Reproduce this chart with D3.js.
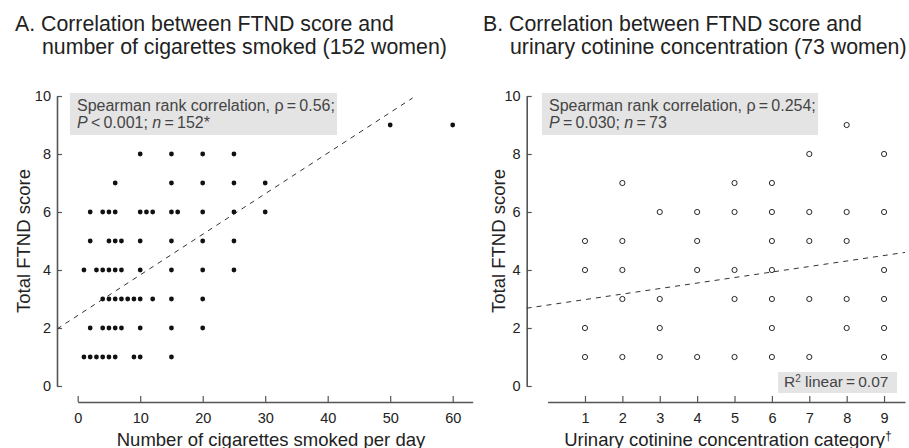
<!DOCTYPE html>
<html>
<head>
<meta charset="utf-8">
<script src="https://cdn.jsdelivr.net/npm/d3@7"></script>
<style>
  html, body { margin: 0; padding: 0; background: #fff; }
  svg { display: block; font-family: "Liberation Sans", Arial, sans-serif; }
</style>
</head>
<body>
<svg id="chart" width="909" height="448"></svg>
<script>
// ---------- DATA ----------
// Panel A: FTND score levels and the cigarettes/day values plotted at each level
const ftndLevels = [1, 2, 3, 4, 5, 6, 7, 8, 9];
const cigsAtScore = [
  [1, 2, 3, 4, 5, 6, 9, 10, 15],                 // score 1
  [2, 4, 5, 6, 7, 10, 15, 20],                   // score 2
  [4, 5, 6, 7, 8, 9, 10, 12, 15, 20],            // score 3
  [1, 3, 4, 5, 6, 7, 10, 15, 20, 25],            // score 4
  [2, 5, 6, 7, 10, 15, 20, 25],                  // score 5
  [2, 4, 5, 6, 10, 11, 12, 15, 16, 20, 25, 30],  // score 6
  [6, 15, 20, 25, 30],                           // score 7
  [10, 15, 20, 25],                              // score 8
  [50, 60]                                       // score 9
];
// Panel B: cotinine categories plotted at each FTND level
const cotinineAtScore = [
  [1, 2, 3, 4, 5, 6, 7, 9],       // score 1
  [1, 3, 6, 8, 9],                // score 2
  [2, 3, 5, 6, 7, 8, 9],          // score 3
  [1, 2, 4, 5, 6, 9],             // score 4
  [1, 2, 4, 6, 7, 8],             // score 5
  [3, 4, 5, 6, 7, 8, 9],          // score 6
  [2, 5, 6],                      // score 7
  [7, 9],                         // score 8
  [8]                             // score 9
];
const yTicks = [0, 2, 4, 6, 8, 10];
const xTicksA = [0, 10, 20, 30, 40, 50, 60];
const xTicksB = [1, 2, 3, 4, 5, 6, 7, 8, 9];
// Fitted lines (intercept, slope) and the x extent over which they are drawn
const fitA = [2.43, 0.14];
const fitAExtent = [-3.3, 53.6];
const fitB = [2.79, 0.19];
const fitBExtent = [-0.56, 9.56];

const titleA = ["A. Correlation between FTND score and", "number of cigarettes smoked (152 women)"];
const titleB = ["B. Correlation between FTND score and", "urinary cotinine concentration (73 women)"];
const xLabelA = "Number of cigarettes smoked per day";
const xLabelB = "Urinary cotinine concentration category";
const yLabel = "Total FTND score";

// ---------- DRAW ----------
const svg = d3.select("#chart");
const axisColor = "#555";
const textColor = "#222";

function flatten(levels, rows) {
  const out = [];
  rows.forEach((r, i) => r.forEach(x => out.push({x: x, y: levels[i]})));
  return out;
}

function drawPanel(cfg) {
  const g = svg.append("g");
  const y = d3.scaleLinear().domain([0, 10]).range([386, 96]);
  const x = d3.scaleLinear().domain(cfg.xDomain).range(cfg.xRange);

  // Y axis (ticks pointing inward, labels outside)
  const ya = g.append("g").attr("transform", `translate(${cfg.yAxisX},0)`)
    .call(d3.axisLeft(y).tickValues(yTicks).tickSizeInner(-5).tickSizeOuter(0).tickPadding(6));
  ya.select(".domain").attr("stroke", axisColor).attr("stroke-width", 1.6);
  ya.selectAll(".tick line").attr("stroke", axisColor).attr("stroke-width", 1.2);
  ya.selectAll(".tick text").attr("fill", textColor).style("font-size", "14.5px")
    .style("font-family", "Liberation Sans, Arial, sans-serif");

  // X axis (separate line below, ticks pointing up)
  const xa = g.append("g").attr("transform", "translate(0,402)")
    .call(d3.axisBottom(x).tickValues(cfg.xTicks).tickSizeInner(-6).tickSizeOuter(0).tickPadding(11));
  xa.select(".domain").attr("stroke", axisColor).attr("stroke-width", 1.6);
  xa.selectAll(".tick line").attr("stroke", axisColor).attr("stroke-width", 1.2);
  xa.selectAll(".tick text").attr("fill", textColor).style("font-size", "14.5px")
    .style("font-family", "Liberation Sans, Arial, sans-serif");

  // Titles
  const t = g.append("text").attr("fill", textColor).style("font-size", "21.3px");
  t.append("tspan").attr("x", cfg.titleX).attr("y", 31).text(cfg.title[0]);
  t.append("tspan").attr("x", cfg.titleX + 27).attr("y", 54).text(cfg.title[1]);

  // Axis labels
  const xl = g.append("text").attr("x", cfg.xLabelX).attr("y", 445.5)
    .attr("text-anchor", "middle").attr("fill", textColor).style("font-size", "18.5px")
    .text(cfg.xLabel);
  if (cfg.dagger) {
    xl.append("tspan").attr("dy", -6).style("font-size", "12px").text("\u2020");
  }
  g.append("text")
    .attr("transform", `translate(${cfg.yLabelX},241) rotate(-90)`)
    .attr("text-anchor", "middle").attr("fill", textColor).style("font-size", "18.5px")
    .text(yLabel);

  // Annotation box
  g.append("rect").attr("x", cfg.boxX).attr("y", 93).attr("width", cfg.boxW).attr("height", 42)
    .attr("fill", "#e4e4e4");
  const at = g.append("text").attr("fill", "#444").style("font-size", "16px");
  const l1 = at.append("tspan").attr("x", cfg.boxX + 7).attr("y", 110.5);
  l1.text(cfg.note1);
  const l2 = at.append("tspan").attr("x", cfg.boxX + 7).attr("y", 127.5);
  cfg.note2.forEach(p => {
    const s = l2.append("tspan").text(p[0]);
    if (p[1]) s.style("font-style", "italic");
  });

  // Fit line
  const line = d3.line().x(d => x(d)).y(d => y(cfg.fit[0] + cfg.fit[1] * d));
  g.append("path").datum(cfg.fitExtent).attr("d", line)
    .attr("fill", "none").attr("stroke", "#333").attr("stroke-width", 1)
    .attr("stroke-dasharray", "5,5");

  // Points
  const pts = flatten(ftndLevels, cfg.rows);
  g.selectAll("circle.pt").data(pts).join("circle").attr("class", "pt")
    .attr("cx", d => x(d.x)).attr("cy", d => y(d.y))
    .attr("r", cfg.filled ? 2.4 : 2.6)
    .attr("fill", cfg.filled ? "#111" : "#fff")
    .attr("stroke", "#111").attr("stroke-width", cfg.filled ? 0 : 0.9);

  return {g, x, y};
}

const th = "\u2009";
drawPanel({
  xDomain: [0, 63.2], xRange: [77.7, 472.7], xTicks: xTicksA, yAxisX: 57,
  title: titleA, titleX: 15, xLabel: xLabelA, xLabelX: 271, yLabelX: 30,
  boxX: 70, boxW: 267,
  note1: "Spearman rank correlation, \u03C1" + th + "=" + th + "0.56;",
  note2: [["P", true], [th + "<" + th + "0.001; ", false], ["n", true], [th + "=" + th + "152*", false]],
  fit: fitA, fitExtent: fitAExtent, rows: cigsAtScore, filled: true
});

const pB = drawPanel({
  xDomain: [0, 9.56], xRange: [547.6, 905], xTicks: xTicksB, yAxisX: 526.7,
  title: titleB, titleX: 483, xLabel: xLabelB, xLabelX: 728, yLabelX: 505, dagger: true,
  boxX: 542, boxW: 276,
  note1: "Spearman rank correlation, \u03C1" + th + "=" + th + "0.254;",
  note2: [["P", true], [th + "=" + th + "0.030; ", false], ["n", true], [th + "=" + th + "73", false]],
  fit: fitB, fitExtent: fitBExtent, rows: cotinineAtScore, filled: false
});

// R² box for panel B
pB.g.append("rect").attr("x", 778).attr("y", 372).attr("width", 119).attr("height", 21)
  .attr("fill", "#e4e4e4");
const rt = pB.g.append("text").attr("x", 784).attr("y", 387).attr("fill", "#444").style("font-size", "15.5px");
rt.append("tspan").text("R");
rt.append("tspan").attr("dy", -5).style("font-size", "10px").text("2");
rt.append("tspan").attr("dy", 5).text(" linear" + th + "=" + th + "0.07");
</script>
</body>
</html>
